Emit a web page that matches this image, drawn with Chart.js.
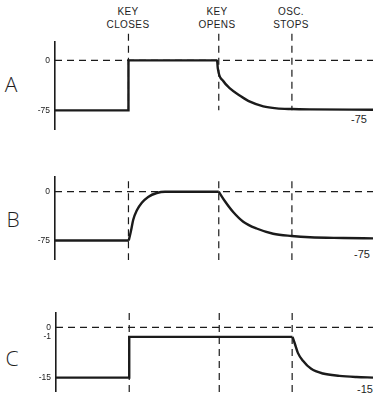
<!DOCTYPE html>
<html>
<head>
<meta charset="utf-8">
<script src="https://cdn.jsdelivr.net/npm/chart.js@4/dist/chart.umd.min.js"></script>
<style>
  body { margin: 0; background: #fff; }
  #wrap { position: relative; width: 381px; height: 402px; overflow: hidden; font-family: 'Liberation Sans', Arial, sans-serif; color: #1e1e1e; }
  canvas { position: absolute; left: 0; }
  .lbl { position: absolute; transform: translate(-50%, -50%); white-space: nowrap; text-align: center; }
  .top { font-size: 10px; line-height: 13px; letter-spacing: 0.4px; }
  .panel { font-family: 'Open Sans', 'Liberation Sans', sans-serif; font-size: 21px; font-weight: 300; }
  .end { font-size: 11px; }
</style>
</head>
<body>
<div id="wrap">
  <div class="lbl top" style="left:128px;top:18px">KEY<br>CLOSES</div>
  <div class="lbl top" style="left:217px;top:18px">KEY<br>OPENS</div>
  <div class="lbl top" style="left:291px;top:18px">OSC.<br>STOPS</div>
  <div class="lbl panel" style="left:11px;top:84px">A</div>
  <div class="lbl panel" style="left:13px;top:219px">B</div>
  <div class="lbl panel" style="left:12px;top:358px">C</div>
  <div class="lbl end" style="left:359px;top:119px">-75</div>
  <div class="lbl end" style="left:362px;top:254px">-75</div>
  <div class="lbl end" style="left:365px;top:389px">-15</div>
  <canvas id="chartA" width="381" height="140" style="top:0"></canvas>
  <canvas id="chartB" width="381" height="130" style="top:140px"></canvas>
  <canvas id="chartC" width="381" height="132" style="top:270px"></canvas>
</div>
<script>
// time axis runs 0..100; event markers: key closes, key opens, osc. stops
const eventTimes = [23.1, 51.5, 74.5];

// A
const stepAx = [0, 23.1, 23.1, 51];
const stepAy = [-75, -75, 0, 0];
const decayAx = [51, 51.2, 52.9, 55, 58.2, 61.3, 65.5, 69.7, 74.4, 80.2, 100];
const decayAy = [0, -12, -31, -42, -53, -62, -69, -72, -73, -73.5, -74];
const ticksA = [0, -75];

// B
const stepBx = [0, 23.2];
const stepBy = [-75, -75];
const riseBx = [23.2, 23.9, 24.6, 25.7, 27.3, 29.3, 32.0, 34.6, 51.5];
const riseBy = [-75, -60, -43, -29, -17, -8, -2, 0, 0];
const decayBx = [51.5, 53.5, 56.1, 59.2, 63.4, 68.6, 74.4, 80.2, 90.7, 100];
const decayBy = [0, -15, -31.5, -46, -56.5, -64.5, -68, -70, -71, -71.6];
const ticksB = [0, -75];

// C
const stepCx = [0, 23.1, 23.1, 74.6];
const stepCy = [-15, -15, -1, -1];
const decayCx = [74.6, 75.3, 76.3, 77.9, 80.5, 84.2, 89.4, 94.8, 100];
const decayCy = [-1, -3.2, -6.5, -9.2, -12.0, -13.6, -14.4, -14.8, -15];
const ticksC = [0, -1, -15];

const ink = '#1b1b1b';

// the C panel's value axis is drawn broken: 0..-1 is stretched
class BrokenScale extends Chart.LinearScale {
  getPixelForValue(v) {
    const u = v >= -1 ? v * 10 : -10 + (v + 1) * 3.05;
    return super.getPixelForValue(u);
  }
}
BrokenScale.id = 'broken';
BrokenScale.defaults = Chart.LinearScale.defaults;
Chart.register(BrokenScale);

const pts = (xs, ys) => xs.map((x, i) => ({ x: x, y: ys[i] }));

function trace(xs, ys, smooth) {
  return {
    data: pts(xs, ys),
    borderColor: ink,
    borderWidth: 2.4,
    pointRadius: 0,
    tension: smooth ? 0.4 : 0,
    cubicInterpolationMode: smooth ? 'monotone' : 'default',
    clip: false
  };
}

function dashed(xs, ys) {
  return {
    data: pts(xs, ys),
    borderColor: ink,
    borderWidth: 1.2,
    borderDash: [7, 5],
    pointRadius: 0,
    clip: false
  };
}

function makeChart(id, cfg) {
  const sets = [dashed([0, 100], [0, 0])];
  eventTimes.forEach(t => sets.push(dashed([t, t], [cfg.markTop, cfg.markBottom])));
  cfg.traces.forEach(tr => sets.push(tr));
  return new Chart(document.getElementById(id), {
    type: 'line',
    data: { datasets: sets },
    options: {
      responsive: false,
      animation: false,
      events: [],
      layout: { padding: { top: cfg.padTop, bottom: cfg.padBottom, left: 0, right: 8 } },
      plugins: { legend: { display: false }, tooltip: { enabled: false } },
      scales: {
        x: { type: 'linear', min: 0, max: 100, display: false },
        y: {
          type: cfg.yType,
          min: cfg.yMin,
          max: cfg.yMax,
          grid: { display: false, drawTicks: false },
          border: { display: true, color: ink, width: 1.6 },
          ticks: { color: ink, padding: 5, font: { family: 'Liberation Sans', size: 8.5 } },
          afterBuildTicks: s => { s.ticks = cfg.ticks.map(v => ({ value: v })); },
          afterFit: s => { s.width = cfg.axisX; }
        }
      }
    }
  });
}

makeChart('chartA', {
  padTop: 42, padBottom: 8, axisX: 55, yType: 'linear', yMin: -104.3, yMax: 27.5,
  markTop: 40, markBottom: -75, ticks: ticksA,
  traces: [trace(stepAx, stepAy, false), trace(decayAx, decayAy, true)]
});

makeChart('chartB', {
  padTop: 37, padBottom: 3, axisX: 55, yType: 'linear', yMin: -104.7, yMax: 22.6,
  markTop: 16, markBottom: -105, ticks: ticksB,
  traces: [trace(stepBx, stepBy, false), trace(riseBx, riseBy, true), trace(decayBx, decayBy, true)]
});

makeChart('chartC', {
  padTop: 43, padBottom: 6, axisX: 56, yType: 'broken', yMin: -67.7, yMax: 15,
  markTop: 1.5, markBottom: -20, ticks: ticksC,
  traces: [trace(stepCx, stepCy, false), trace(decayCx, decayCy, true)]
});
</script>
</body>
</html>
